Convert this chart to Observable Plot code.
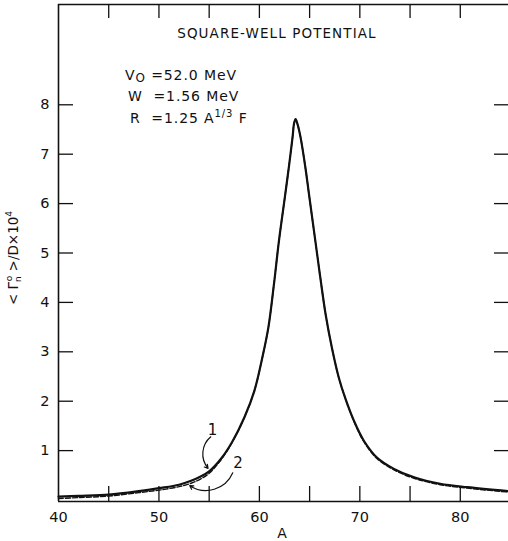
<!DOCTYPE html>
<html><head><meta charset="utf-8">
<script src="https://cdn.jsdelivr.net/npm/d3@7"></script>
<script src="https://cdn.jsdelivr.net/npm/@observablehq/plot@0.6"></script>
<style>body{margin:0;background:#fff;} svg{display:block}</style>
</head><body><div id="chart"></div>
<script>
// Curve 1 (solid)
const A1 = [40, 42, 45, 48, 50, 52, 53.2, 54, 55.0, 56.2, 57.3, 58.5, 59.5, 60.3, 60.9, 61.45, 61.95, 62.55, 62.94, 63.3, 63.45, 63.6, 63.78, 64.1, 64.6, 64.93, 65.6, 66.1, 66.6, 67.25, 67.9, 68.6, 69.4, 70.4, 71.7, 73.4, 75.4, 78.0, 80.7, 84.8];
const V1 = [0.07, 0.085, 0.11, 0.18, 0.24, 0.31, 0.39, 0.46, 0.58, 0.84, 1.18, 1.67, 2.21, 2.89, 3.5, 4.37, 5.25, 6.15, 6.75, 7.34, 7.62, 7.71, 7.62, 7.34, 6.7, 6.2, 5.2, 4.45, 3.75, 3.05, 2.48, 2.03, 1.61, 1.2, 0.86, 0.63, 0.46, 0.33, 0.26, 0.18];
// Curve 2 (dashed)
const A2 = [40, 42, 45, 48, 50, 52, 53.2, 54, 55.0, 56.2, 57.3, 58.5, 59.5, 60.3, 60.9, 61.45, 61.95, 62.55, 62.94, 63.3, 63.45, 63.6, 63.78, 64.1, 64.6, 64.93, 65.6, 66.1, 66.6, 67.25, 67.9, 68.6, 69.4, 70.4, 71.7, 73.4, 75.4, 78.0, 80.7, 84.8];
const V2 = [0.03, 0.05, 0.08, 0.15, 0.2, 0.27, 0.34, 0.41, 0.54, 0.82, 1.17, 1.67, 2.21, 2.89, 3.5, 4.37, 5.25, 6.15, 6.75, 7.34, 7.62, 7.71, 7.62, 7.34, 6.7, 6.2, 5.2, 4.45, 3.75, 3.05, 2.48, 2.03, 1.6, 1.18, 0.84, 0.61, 0.44, 0.31, 0.24, 0.16];

const xLabelTicks = [40, 50, 60, 70, 80];
const xTicks = [45, 50, 55, 60, 65, 70, 75, 80];
const yTicks = [1, 2, 3, 4, 5, 6, 7, 8];
const xDomain = [40, 84.8];
const yDomain = [-0.03, 10.03];

const titleText = "SQUARE-WELL POTENTIAL";
const curveLabels = ["1", "2"];
const curveLabelA = [55.33, 57.87];
const curveLabelV = [1.41, 0.74];
const arrowFromA = [55.16, 57.35];
const arrowFromV = [1.28, 0.55];
const arrowToA = [54.89, 53.07];
const arrowToV = [0.64, 0.29];
const arrowBend = [-45, 50];

const curve1 = A1.map((a, i) => ({A: a, v: V1[i]}));
const curve2 = A2.map((a, i) => ({A: a, v: V2[i]}));
const labels = curveLabels.map((t, i) => ({t, A: curveLabelA[i], v: curveLabelV[i]}));
const arrows = curveLabels.map((t, i) => ({x1: arrowFromA[i], y1: arrowFromV[i], x2: arrowToA[i], y2: arrowToV[i], bend: arrowBend[i]}));

const ink = "#111";
const plot = Plot.plot({
  width: 508, height: 541,
  marginLeft: 58, marginRight: 0, marginTop: 4, marginBottom: 40,
  x: {domain: xDomain},
  y: {domain: yDomain},
  style: {fontFamily: "DejaVu Sans", fontSize: "14px", color: ink, background: "#fff", overflow: "visible"},
  marks: [
    Plot.axisX(xLabelTicks, {anchor: "bottom", tickSize: 0, tickPadding: 10, label: null, fontSize: 14.5}),
    Plot.axisX(xTicks, {anchor: "bottom", tickSize: -15, text: null, label: null, strokeWidth: 1.3}),
    Plot.axisX(xTicks, {anchor: "top", tickSize: -13, text: null, label: null, strokeWidth: 1.3}),
    Plot.axisY(yTicks, {anchor: "left", tickSize: 0, tickPadding: 9, label: null, fontSize: 14.5}),
    Plot.axisY(yTicks, {anchor: "left", tickSize: -15, text: null, label: null, strokeWidth: 1.3}),
    Plot.axisY(yTicks, {anchor: "right", tickSize: -15, text: null, label: null, strokeWidth: 1.3}),
    Plot.ruleX([xDomain[0]], {stroke: ink, strokeWidth: 1.6}),
    Plot.ruleY([yDomain[0]], {stroke: ink, strokeWidth: 1.6}),
    Plot.ruleY([yDomain[1]], {stroke: ink, strokeWidth: 1.6}),
    Plot.line(curve2, {x: "A", y: "v", stroke: ink, strokeWidth: 1.4, strokeDasharray: "5,2", curve: "catmull-rom"}),
    Plot.line(curve1, {x: "A", y: "v", stroke: ink, strokeWidth: 2.2, curve: "catmull-rom"}),
    ...arrows.map(a => Plot.arrow([a], {x1: "x1", y1: "y1", x2: "x2", y2: "y2", bend: a.bend, stroke: ink, strokeWidth: 1.2, headLength: 5})),
    Plot.text(labels, {x: "A", y: "v", text: "t", fontSize: 15, fill: ink})
  ]
});
document.getElementById("chart").append(plot);

const svg = d3.select(plot);
const sx = plot.scale("x").apply, sy = plot.scale("y").apply;
const font = "DejaVu Sans";

// Title
svg.append("text").attr("x", sx(61.8)).attr("y", sy(9.34)).attr("text-anchor", "middle")
  .attr("font-family", font).attr("font-size", 13.5).attr("letter-spacing", 1.1).attr("fill", ink).text(titleText);

// Parameters
const params = svg.append("g").attr("font-family", font).attr("font-size", 14).attr("letter-spacing", 0.9)
  .attr("text-anchor", "start").attr("fill", ink);
const t1 = params.append("text").attr("x", sx(46.67)).attr("y", sy(8.49));
t1.append("tspan").text("V");
t1.append("tspan").attr("font-size", 12).attr("dy", 2).text("O");
t1.append("tspan").attr("dy", -2).text(" =52.0 MeV");
params.append("text").attr("x", sx(46.97)).attr("y", sy(8.07)).text("W  =1.56 MeV");
const t3 = params.append("text").attr("x", sx(47.17)).attr("y", sy(7.63));
t3.append("tspan").text("R  =1.25 A");
t3.append("tspan").attr("font-size", 10).attr("dy", -6).text("1/3");
t3.append("tspan").attr("dy", 6).text(" F");

// Y axis label
const yl = svg.append("text").attr("transform", "translate(18,258) rotate(-90)").attr("text-anchor", "middle")
  .attr("font-family", font).attr("font-size", 13.5).attr("fill", ink);
yl.append("tspan").text("< Γ");
yl.append("tspan").attr("font-size", 9).attr("dy", 3).text("n");
yl.append("tspan").attr("font-size", 9).attr("dx", -5).attr("dy", -9).text("o");
yl.append("tspan").attr("dy", 6).text(" >/D×10");
yl.append("tspan").attr("font-size", 9).attr("dy", -6).text("4");

// X axis label
svg.append("text").attr("x", 282).attr("y", 538).attr("text-anchor", "middle")
  .attr("font-family", font).attr("font-size", 14).attr("fill", ink).text("A");
</script>
</body></html>
